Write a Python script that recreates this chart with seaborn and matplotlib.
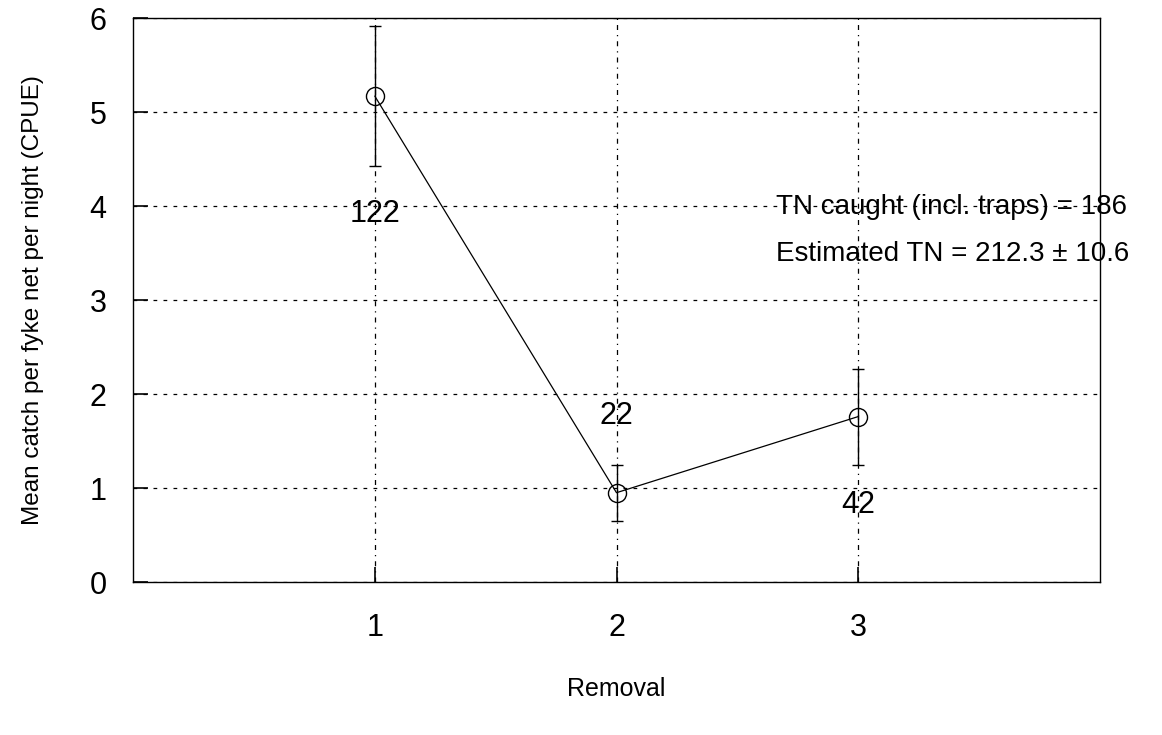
import matplotlib
matplotlib.use("Agg")
import matplotlib.pyplot as plt
import seaborn as sns
import pandas as pd

removal = [1, 2, 3]
cpue = [5.17, 0.95, 1.76]
err_low = [4.43, 0.65, 1.25]
err_high = [5.91, 1.25, 2.27]
catch_labels = ["122", "22", "42"]
label_y = [3.92, 1.77, 0.82]
xticks = [1, 2, 3]
yticks = [0, 1, 2, 3, 4, 5, 6]
note_lines = ["TN caught (incl. traps) = 186", "Estimated TN = 212.3 \u00b1 10.6"]

sns.set_style("white")
plt.rcParams['font.family'] = ['Liberation Sans', 'DejaVu Sans']
for k in ['text.color', 'axes.labelcolor', 'xtick.color', 'ytick.color', 'axes.edgecolor']:
    plt.rcParams[k] = 'black'

df = pd.DataFrame({"Removal": removal, "CPUE": cpue})

fig = plt.figure(figsize=(11.62, 7.35), dpi=100)
ax = fig.add_axes([133/1162, 1-582/735, (1100-133)/1162, (582-18)/735])

ax.errorbar(removal, cpue,
            yerr=[[c - l for c, l in zip(cpue, err_low)], [h - c for c, h in zip(cpue, err_high)]],
            fmt='none', ecolor='black', elinewidth=1.0, capsize=4.5, capthick=1.0, zorder=3)
sns.lineplot(data=df, x="Removal", y="CPUE", ax=ax, color="black", linewidth=0.9,
             marker='o', markersize=13, markerfacecolor='none', markeredgecolor='black',
             markeredgewidth=1.0, zorder=4)

for x, y, t in zip(removal, label_y, catch_labels):
    ax.text(x, y, t, ha='center', va='center', fontsize=22)

ax.text(2.66, 3.99, note_lines[0], ha='left', va='center', fontsize=20, clip_on=False)
ax.text(2.66, 3.49, note_lines[1], ha='left', va='center', fontsize=20, clip_on=False)

ax.set_xlim(0, 4)
ax.set_ylim(0, 6)
ax.set_xticks(xticks)
ax.set_yticks(yticks)
ax.grid(True, axis='y', color='black', linestyle=(0, (3, 5)), linewidth=0.9)
ax.grid(True, axis='x', color='black', linestyle=(0, (4, 4, 1, 4)), linewidth=0.9)
ax.set_axisbelow(True)
for s in ax.spines.values():
    s.set_visible(True)
    s.set_color('black')
    s.set_linewidth(1.0)
ax.tick_params(axis='both', direction='in', length=11, width=1.2, colors='black',
               labelsize=22, bottom=True, left=True)
ax.tick_params(axis='x', pad=22)
ax.tick_params(axis='y', pad=19)
ax.set_xlabel("Removal", fontsize=18, labelpad=25)
ax.set_ylabel("Mean catch per fyke net per night (CPUE)", fontsize=17.5, labelpad=33)

fig.savefig("out.png", dpi=100)
